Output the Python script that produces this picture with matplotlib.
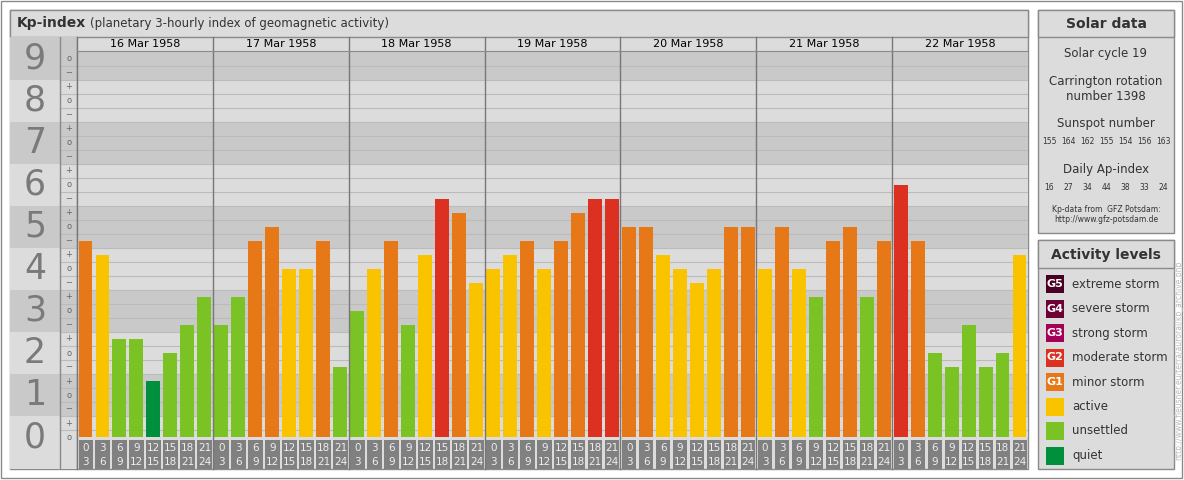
import matplotlib
matplotlib.use("Agg")
import matplotlib.pyplot as plt
from matplotlib.patches import Rectangle

days = ["16 Mar 1958", "17 Mar 1958", "18 Mar 1958", "19 Mar 1958",
        "20 Mar 1958", "21 Mar 1958", "22 Mar 1958"]
kp = [4.67, 4.33, 2.33, 2.33, 1.33, 2.0, 2.67, 3.33,
      2.67, 3.33, 4.67, 5.0, 4.0, 4.0, 4.67, 1.67,
      3.0, 4.0, 4.67, 2.67, 4.33, 5.67, 5.33, 3.67,
      4.0, 4.33, 4.67, 4.0, 4.67, 5.33, 5.67, 5.67,
      5.0, 5.0, 4.33, 4.0, 3.67, 4.0, 5.0, 5.0,
      4.0, 5.0, 4.0, 3.33, 4.67, 5.0, 3.33, 4.67,
      6.0, 4.67, 2.0, 1.67, 2.67, 1.67, 2.0, 4.33]
hours_top = ["0", "3", "6", "9", "12", "15", "18", "21"]
hours_bot = ["3", "6", "9", "12", "15", "18", "21", "24"]
sunspots = ["155", "164", "162", "155", "154", "156", "163"]
ap_index = ["16", "27", "34", "44", "38", "33", "24"]
levels = [("G5", "extreme storm", "#4a0025"), ("G4", "severe storm", "#6d0035"),
          ("G3", "strong storm", "#a50057"), ("G2", "moderate storm", "#dc3120"),
          ("G1", "minor storm", "#e67817"), ("", "active", "#f9c300"),
          ("", "unsettled", "#7bc224"), ("", "quiet", "#008f3d")]

def color(v):
    if v < 1.5: return "#008f3d"
    if v < 3.5: return "#7bc224"
    if v < 4.5: return "#f9c300"
    if v < 5.5: return "#e67817"
    if v < 6.5: return "#dc3120"
    if v < 7.5: return "#a50057"
    if v < 8.5: return "#6d0035"
    return "#4a0025"

W, H = 1184, 480
LIGHT, DARK, EDGE, TXT = "#dcdcdc", "#c9c9c9", "#8a8a8a", "#333333"
fig = plt.figure(figsize=(W/100, H/100), dpi=100)
fig.patch.set_facecolor("white")

def rect(x0, y0, x1, y1, z=-1, **kw):
    r = Rectangle((x0/W, 1-y1/H), (x1-x0)/W, (y1-y0)/H,
                  transform=fig.transFigure, zorder=z, **kw)
    fig.add_artist(r)
def text(x, y, s, **kw):
    fig.text(x/W, 1-y/H, s, **kw)

rect(1, 1, 1182, 478, z=-3, facecolor="white", edgecolor=EDGE, lw=1)
rect(10, 10, 1028, 469, z=-2, facecolor=LIGHT, edgecolor=EDGE, lw=1)
rect(10, 10, 1028, 37, facecolor=LIGHT, edgecolor=EDGE, lw=1)
text(17, 23, "Kp-index", fontsize=10, fontweight="bold", color=TXT, va="center")
text(90, 23, "(planetary 3-hourly index of geomagnetic activity)", fontsize=8.5,
     color=TXT, va="center")

PPU = 42.0

axl = fig.add_axes([10/W, 1-469/H, 67/W, (469-37)/H])
axl.set_xlim(10, 77); axl.set_ylim((437-469)/PPU, (437-37)/PPU)
axl.axis("off")
for n in range(10):
    lo = n-0.5 if n > 0 else -1
    hi = n+0.5 if n < 9 else 10
    axl.axhspan(lo, hi, color=DARK if n % 2 else LIGHT, lw=0)
    axl.text(35, n, str(n), fontsize=25, color="#7a7a7a", ha="center", va="center")
    for d, s in ((-1/3, "\u2212"), (0, "o"), (1/3, "+")):
        if (n == 0 and d < 0) or (n == 9 and d > 0):
            continue
        axl.text(69, n+d, s, fontsize=6, color="#666", ha="center", va="center")
for k in range(0, 28):
    yv = k/3 - 1/6
    if 0 < yv < 9.3:
        axl.plot([60, 77], [yv, yv], color="#bbbbbb", lw=0.8)
axl.plot([60, 60], [-1, 10], color=EDGE, lw=1)
axl.plot([76.5, 76.5], [-1, 10], color=EDGE, lw=1)

ax = fig.add_axes([77/W, 1-437/H, (1028-77)/W, (437-51)/H])
ax.set_xlim(0, 56); ax.set_ylim(0, (437-51)/PPU)
ax.axis("off")
for n in range(10):
    ax.axhspan(max(n-0.5, 0), n+0.5 if n < 9 else 10, color=DARK if n % 2 else LIGHT, lw=0)
for k in range(1, 28):
    ax.axhline(k/3 - 1/6, color="#bbbbbb", lw=0.8)
xs = [i + 0.5 for i in range(len(kp))]
ax.bar(xs, kp, width=0.82, color=[color(v) for v in kp], zorder=3)

slot = (1028-77)/56
for d, name in enumerate(days):
    x0 = 77 + d*8*slot
    text(x0 + 4*slot, 44, name, fontsize=8, color="black", ha="center", va="center")
    fig.add_artist(plt.Line2D([x0/W, x0/W], [1-37/H, 1-469/H], color="#777", lw=1, zorder=5))
fig.add_artist(plt.Line2D([77/W, 1028/W], [1-51/H, 1-51/H], color=EDGE, lw=0.8, zorder=5))
for i in range(56):
    x0 = 77 + i*slot
    rect(x0+1.5, 440, x0+slot-1, 469, facecolor="#808080", edgecolor="none")
    text(x0+slot/2+0.3, 448, hours_top[i % 8], fontsize=7.5, color="#eeeeee", ha="center", va="center")
    text(x0+slot/2+0.3, 462, hours_bot[i % 8], fontsize=7.5, color="#eeeeee", ha="center", va="center")

rect(1038, 10, 1174, 233, facecolor=LIGHT, edgecolor=EDGE, lw=1)
rect(1038, 10, 1174, 37, facecolor=LIGHT, edgecolor=EDGE, lw=1)
cx = 1106
text(cx, 24, "Solar data", fontsize=10, fontweight="bold", color=TXT, ha="center", va="center")
text(cx, 54, "Solar cycle 19", fontsize=8.5, color=TXT, ha="center", va="center")
text(cx, 82, "Carrington rotation", fontsize=8.5, color=TXT, ha="center", va="center")
text(cx, 96, "number 1398", fontsize=8.5, color=TXT, ha="center", va="center")
text(cx, 124, "Sunspot number", fontsize=8.5, color=TXT, ha="center", va="center")
text(cx, 169, "Daily Ap-index", fontsize=8.5, color=TXT, ha="center", va="center")
for i in range(7):
    xx = 1049 + i*19
    text(xx, 142, sunspots[i], fontsize=5.5, color=TXT, ha="center", va="center")
    text(xx, 187, ap_index[i], fontsize=5.5, color=TXT, ha="center", va="center")
text(cx, 209, "Kp-data from  GFZ Potsdam:", fontsize=5.5, color=TXT, ha="center", va="center")
text(cx, 219, "http://www.gfz-potsdam.de", fontsize=5.5, color=TXT, ha="center", va="center")

rect(1038, 240, 1174, 469, facecolor=LIGHT, edgecolor=EDGE, lw=1)
rect(1038, 240, 1174, 268, facecolor=LIGHT, edgecolor=EDGE, lw=1)
text(cx, 255, "Activity levels", fontsize=10, fontweight="bold", color=TXT, ha="center", va="center")
for i, (g, lab, c) in enumerate(levels):
    yy = 284 + i*24.5
    rect(1046, yy-9, 1064, yy+9, facecolor=c, edgecolor="none")
    if g:
        text(1055, yy, g, fontsize=8, fontweight="bold", color="white", ha="center", va="center")
    text(1072, yy, lab, fontsize=8.5, color=TXT, va="center")

text(1179, 360, "http://www.fleusner.eu/terra/auroral/kp_archive.php", fontsize=5.5,
     color="#bbbbbb", rotation=90, ha="center", va="center")

fig.savefig("out.png", dpi=100, facecolor="white")
